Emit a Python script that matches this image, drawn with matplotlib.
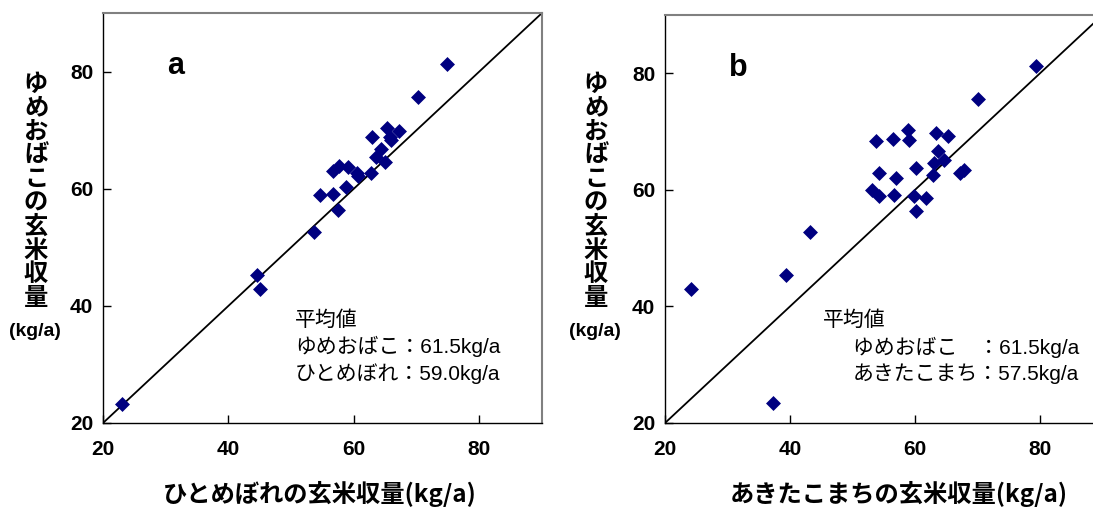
import matplotlib
matplotlib.use("Agg")
import matplotlib.pyplot as plt

# panel a: ひとめぼれ (x) vs ゆめおばこ (y)
hitomebore = [23.1, 44.6, 45.0, 53.6, 54.6, 56.7, 57.5, 58.7, 56.7, 57.6, 59.1, 60.5,
              60.7, 62.7, 63.5, 65.0, 64.3, 62.85, 65.3, 67.2, 65.8, 66.0, 70.3, 74.9]
yume_a = [23.3, 45.2, 42.9, 52.6, 59.0, 59.1, 56.4, 60.3, 63.1, 63.9, 63.7, 62.6,
          62.1, 62.7, 65.4, 64.6, 66.8, 68.8, 70.3, 69.9, 68.8, 68.4, 75.6, 81.3]

# panel b: あきたこまち (x) vs ゆめおばこ (y)
akita = [24.1, 37.3, 39.4, 43.2, 53.1, 54.2, 54.2, 53.7, 56.4, 56.6, 56.9, 58.8, 59.1, 60.2,
         59.8, 60.2, 61.8, 62.8, 63.1, 63.6, 63.4, 64.7, 65.2, 67.2, 67.9, 70.1, 79.3]
yume_b = [43.0, 23.5, 45.4, 52.8, 60.0, 58.9, 62.9, 68.4, 68.7, 59.1, 62.1, 70.3, 68.5, 63.8,
          58.9, 56.3, 58.6, 62.6, 64.6, 66.7, 69.8, 65.1, 69.2, 62.9, 63.4, 75.6, 81.3]

ticks = [20, 40, 60, 80]
tick_labels = ["20", "40", "60", "80"]
ylabel_chars = list("ゆめおばこの玄米収量")
xlabel_a = "ひとめぼれの玄米収量(kg/a)"
xlabel_b = "あきたこまちの玄米収量(kg/a)"
mean_a = ["平均値", "ゆめおばこ：61.5kg/a", "ひとめぼれ：59.0kg/a"]
mean_b = ["平均値", "ゆめおばこ　：61.5kg/a", "あきたこまち：57.5kg/a"]

CJK = ["Noto Sans CJK JP", "DejaVu Sans"]
LAT = ["Liberation Sans", "DejaVu Sans"]
MIX = ["Liberation Sans", "Noto Sans CJK JP", "DejaVu Sans"]
W, H = 1093, 508


def panel(ax, xs, ys, letter, mean_lines, mean_x):
    ax.scatter(xs, ys, marker="D", s=58, color="#000080", zorder=3, linewidths=0)
    ax.axline((20, 20), slope=1, color="black", lw=1.3, zorder=2)
    ax.set_xlim(20, 90)
    ax.set_ylim(20, 90)
    ax.set_xticks(ticks, labels=tick_labels, fontsize=15, fontweight="bold", family=LAT)
    ax.set_yticks(ticks, labels=tick_labels, fontsize=15, fontweight="bold", family=LAT)
    ax.tick_params(axis="x", direction="in", length=6, width=1, pad=12)
    ax.tick_params(axis="y", direction="in", length=6, width=1, pad=7)
    for side in ["top", "right"]:
        ax.spines[side].set_color("#808080")
        ax.spines[side].set_linewidth(1.5)
    for side in ["left", "bottom"]:
        ax.spines[side].set_color("black")
        ax.spines[side].set_linewidth(1.0)
    ax.text(30.3, 79.6, letter, fontsize=22, fontweight="bold", family=LAT, va="baseline")
    ax.text(mean_x[0], 37.6, mean_lines[0], fontsize=15, family=MIX, va="center")
    ax.text(mean_x[1], 33.0, mean_lines[1], fontsize=15, family=MIX, va="center")
    ax.text(mean_x[1], 28.4, mean_lines[2], fontsize=15, family=MIX, va="center")


def ylabel(xc):
    for i, ch in enumerate(ylabel_chars):
        fig.text(xc / W, 1 - (84 + i * 23.8) / H, ch, fontsize=17.5, fontweight="bold",
                 family=CJK, ha="center", va="center")
    fig.text((xc - 1) / W, 1 - 331 / H, "(kg/a)", fontsize=14, fontweight="bold",
             family=LAT, ha="center", va="center")


fig = plt.figure(figsize=(W / 100, H / 100), dpi=100)
ax_a = fig.add_axes([103 / W, 85 / H, 439 / W, 410 / H])
ax_b = fig.add_axes([665 / W, 85 / H, 437.5 / W, 408 / H])

panel(ax_a, hitomebore, yume_a, "a", mean_a, (50.6, 50.6))
panel(ax_b, akita, yume_b, "b", mean_b, (45.3, 50.1))

ylabel(36)
ylabel(596)

fig.text(163 / W, 1 - 494 / H, xlabel_a, fontsize=17.5, fontweight="bold", family=CJK,
         ha="left", va="center")
fig.text(730 / W, 1 - 494 / H, xlabel_b, fontsize=17.5, fontweight="bold", family=CJK,
         ha="left", va="center")

fig.savefig("out.png", dpi=100)
